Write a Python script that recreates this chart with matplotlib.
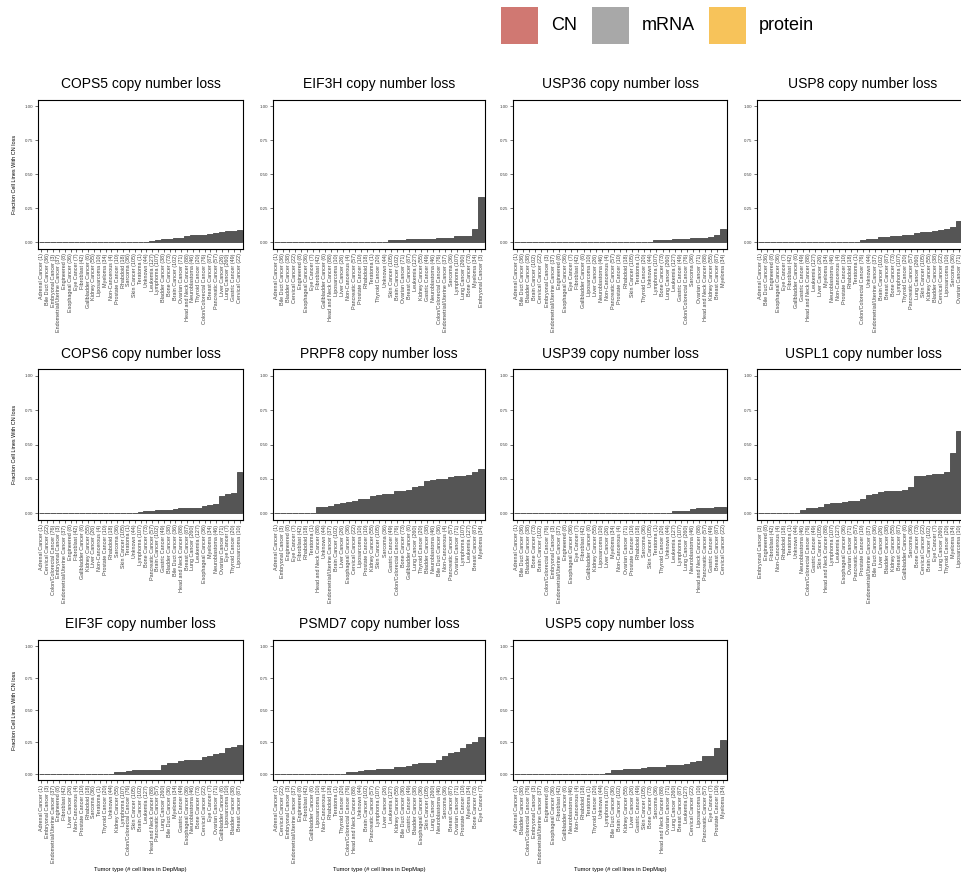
import numpy as np
import matplotlib.pyplot as plt
from matplotlib.patches import Rectangle

plt.rcParams['font.family'] = ['Liberation Sans', 'DejaVu Sans']

# number of cell lines per tumor type in DepMap
n_lines = {
    "Adrenal Cancer": 1, "Bile Duct Cancer": 36, "Bladder Cancer": 38, "Bone Cancer": 73,
    "Brain Cancer": 102, "Breast Cancer": 87, "Cervical Cancer": 22,
    "Colon/Colorectal Cancer": 76, "Embryonal Cancer": 3, "Endometrial/Uterine Cancer": 37,
    "Engineered": 8, "Esophageal Cancer": 36, "Eye Cancer": 7, "Fibroblast": 42,
    "Gallbladder Cancer": 6, "Gastric Cancer": 49, "Head and Neck Cancer": 88,
    "Kidney Cancer": 55, "Leukemia": 127, "Liposarcoma": 10, "Liver Cancer": 26,
    "Lung Cancer": 260, "Lymphoma": 107, "Myeloma": 34, "Neuroblastoma": 46,
    "Non-Cancerous": 4, "Ovarian Cancer": 71, "Pancreatic Cancer": 57, "Prostate Cancer": 10,
    "Rhabdoid": 18, "Sarcoma": 36, "Skin Cancer": 105, "Teratoma": 1, "Thyroid Cancer": 20,
    "Unknown": 44,
}

cops5_types = ["Adrenal Cancer", "Bile Duct Cancer", "Embryonal Cancer", "Endometrial/Uterine Cancer",
               "Engineered", "Esophageal Cancer", "Eye Cancer", "Fibroblast", "Gallbladder Cancer",
               "Kidney Cancer", "Liposarcoma", "Myeloma", "Non-Cancerous", "Prostate Cancer", "Rhabdoid",
               "Sarcoma", "Skin Cancer", "Teratoma", "Unknown", "Leukemia", "Lymphoma", "Bladder Cancer",
               "Bone Cancer", "Brain Cancer", "Ovarian Cancer", "Head and Neck Cancer", "Neuroblastoma",
               "Thyroid Cancer", "Colon/Colorectal Cancer", "Breast Cancer", "Pancreatic Cancer",
               "Liver Cancer", "Lung Cancer", "Gastric Cancer", "Cervical Cancer"]
cops5_frac = [0]*19 + [0.008, 0.019, 0.026, 0.027, 0.029, 0.034, 0.043, 0.05, 0.05, 0.053,
                       0.057, 0.07, 0.077, 0.081, 0.082, 0.091]

eif3h_types = ["Adrenal Cancer", "Bile Duct Cancer", "Bladder Cancer", "Cervical Cancer", "Engineered",
               "Esophageal Cancer", "Eye Cancer", "Fibroblast", "Gallbladder Cancer",
               "Head and Neck Cancer", "Liposarcoma", "Liver Cancer", "Non-Cancerous",
               "Pancreatic Cancer", "Prostate Cancer", "Rhabdoid", "Teratoma", "Thyroid Cancer",
               "Unknown", "Skin Cancer", "Brain Cancer", "Ovarian Cancer", "Breast Cancer", "Leukemia",
               "Kidney Cancer", "Gastric Cancer", "Neuroblastoma", "Colon/Colorectal Cancer",
               "Endometrial/Uterine Cancer", "Sarcoma", "Lymphoma", "Lung Cancer", "Bone Cancer",
               "Myeloma", "Embryonal Cancer"]
eif3h_frac = [0]*19 + [0.017, 0.017, 0.017, 0.026, 0.026, 0.024, 0.024, 0.024, 0.032, 0.032,
                       0.032, 0.047, 0.047, 0.047, 0.099, 0.333]

usp36_types = ["Adrenal Cancer", "Bile Duct Cancer", "Bladder Cancer", "Brain Cancer", "Cervical Cancer",
               "Embryonal Cancer", "Endometrial/Uterine Cancer", "Engineered", "Esophageal Cancer",
               "Eye Cancer", "Fibroblast", "Gallbladder Cancer", "Liposarcoma", "Liver Cancer",
               "Neuroblastoma", "Non-Cancerous", "Pancreatic Cancer", "Prostate Cancer", "Rhabdoid",
               "Skin Cancer", "Teratoma", "Thyroid Cancer", "Unknown", "Lymphoma", "Bone Cancer",
               "Lung Cancer", "Leukemia", "Gastric Cancer", "Colon/Colorectal Cancer", "Sarcoma",
               "Ovarian Cancer", "Head and Neck Cancer", "Kidney Cancer", "Breast Cancer", "Myeloma"]
usp36_frac = [0]*23 + [0.014, 0.017, 0.019, 0.02, 0.02, 0.026, 0.028, 0.028, 0.034, 0.04,
                       0.052, 0.096]

usp8_types = ["Adrenal Cancer", "Bile Duct Cancer", "Engineered", "Esophageal Cancer", "Eye Cancer",
              "Fibroblast", "Gallbladder Cancer", "Gastric Cancer", "Head and Neck Cancer", "Leukemia",
              "Liver Cancer", "Myeloma", "Neuroblastoma", "Non-Cancerous", "Prostate Cancer", "Rhabdoid",
              "Teratoma", "Colon/Colorectal Cancer", "Unknown", "Endometrial/Uterine Cancer",
              "Brain Cancer", "Breast Cancer", "Bone Cancer", "Lymphoma", "Thyroid Cancer",
              "Pancreatic Cancer", "Lung Cancer", "Skin Cancer", "Kidney Cancer", "Bladder Cancer",
              "Cervical Cancer", "Liposarcoma", "Sarcoma", "Ovarian Cancer", "Embryonal Cancer"]
usp8_frac = [0]*17 + [0.013, 0.027, 0.027, 0.037, 0.039, 0.044, 0.049, 0.05, 0.053, 0.066,
                      0.073, 0.073, 0.079, 0.091, 0.1, 0.111, 0.155, 0.333]

cops6_types = ["Adrenal Cancer", "Cervical Cancer", "Colon/Colorectal Cancer", "Embryonal Cancer",
               "Endometrial/Uterine Cancer", "Engineered", "Fibroblast", "Gallbladder Cancer",
               "Kidney Cancer", "Liver Cancer", "Non-Cancerous", "Prostate Cancer", "Rhabdoid", "Sarcoma",
               "Skin Cancer", "Teratoma", "Unknown", "Lymphoma", "Bone Cancer", "Pancreatic Cancer",
               "Brain Cancer", "Gastric Cancer", "Bladder Cancer", "Bile Duct Cancer",
               "Head and Neck Cancer", "Breast Cancer", "Lung Cancer", "Leukemia", "Esophageal Cancer",
               "Myeloma", "Neuroblastoma", "Ovarian Cancer", "Eye Cancer", "Thyroid Cancer", "Liposarcoma"]
cops6_frac = [0]*17 + [0.009, 0.014, 0.018, 0.02, 0.02, 0.026, 0.028, 0.034, 0.034, 0.035,
                       0.039, 0.053, 0.059, 0.065, 0.124, 0.138, 0.148, 0.3]

prpf8_types = ["Adrenal Cancer", "Embryonal Cancer", "Engineered", "Eye Cancer", "Fibroblast", "Rhabdoid",
               "Teratoma", "Head and Neck Cancer", "Unknown", "Endometrial/Uterine Cancer", "Brain Cancer",
               "Liver Cancer", "Esophageal Cancer", "Cervical Cancer", "Liposarcoma", "Prostate Cancer",
               "Kidney Cancer", "Skin Cancer", "Sarcoma", "Gastric Cancer", "Colon/Colorectal Cancer",
               "Bone Cancer", "Gallbladder Cancer", "Lung Cancer", "Thyroid Cancer", "Bladder Cancer",
               "Neuroblastoma", "Bile Duct Cancer", "Non-Cancerous", "Pancreatic Cancer",
               "Ovarian Cancer", "Lymphoma", "Leukemia", "Breast Cancer", "Myeloma"]
prpf8_frac = [0]*7 + [0.045, 0.045, 0.054, 0.069, 0.077, 0.083, 0.091, 0.1, 0.1, 0.127, 0.133,
                      0.139, 0.143, 0.158, 0.164, 0.167, 0.192, 0.2, 0.237, 0.239, 0.25, 0.25,
                      0.263, 0.268, 0.271, 0.276, 0.299, 0.324]

usp39_types = ["Adrenal Cancer", "Bile Duct Cancer", "Bladder Cancer", "Bone Cancer", "Brain Cancer",
               "Colon/Colorectal Cancer", "Embryonal Cancer", "Endometrial/Uterine Cancer", "Engineered",
               "Esophageal Cancer", "Eye Cancer", "Fibroblast", "Gallbladder Cancer", "Kidney Cancer",
               "Liposarcoma", "Liver Cancer", "Myeloma", "Non-Cancerous", "Ovarian Cancer",
               "Prostate Cancer", "Rhabdoid", "Sarcoma", "Skin Cancer", "Teratoma", "Thyroid Cancer",
               "Unknown", "Leukemia", "Lymphoma", "Lung Cancer", "Neuroblastoma", "Head and Neck Cancer",
               "Pancreatic Cancer", "Gastric Cancer", "Breast Cancer", "Cervical Cancer"]
usp39_frac = [0]*26 + [0.016, 0.019, 0.019, 0.03, 0.034, 0.035, 0.041, 0.046, 0.048]

uspl1_types = ["Embryonal Cancer", "Engineered", "Fibroblast", "Non-Cancerous", "Rhabdoid", "Teratoma",
               "Unknown", "Neuroblastoma", "Colon/Colorectal Cancer", "Gastric Cancer", "Skin Cancer",
               "Head and Neck Cancer", "Lymphoma", "Leukemia", "Esophageal Cancer", "Ovarian Cancer",
               "Pancreatic Cancer", "Prostate Cancer", "Endometrial/Uterine Cancer", "Bile Duct Cancer",
               "Liver Cancer", "Bladder Cancer", "Kidney Cancer", "Breast Cancer", "Gallbladder Cancer",
               "Sarcoma", "Bone Cancer", "Cervical Cancer", "Brain Cancer", "Eye Cancer", "Lung Cancer",
               "Thyroid Cancer", "Myeloma", "Liposarcoma", "Adrenal Cancer"]
uspl1_frac = [0]*7 + [0.022, 0.039, 0.041, 0.048, 0.068, 0.075, 0.075, 0.083, 0.085, 0.088,
                      0.1, 0.135, 0.139, 0.154, 0.158, 0.164, 0.164, 0.167, 0.194, 0.274,
                      0.273, 0.275, 0.286, 0.288, 0.3, 0.441, 0.6, 1.0]

eif3f_types = ["Adrenal Cancer", "Embryonal Cancer", "Endometrial/Uterine Cancer", "Engineered",
               "Fibroblast", "Liver Cancer", "Non-Cancerous", "Prostate Cancer", "Rhabdoid", "Sarcoma",
               "Teratoma", "Thyroid Cancer", "Unknown", "Kidney Cancer", "Lymphoma",
               "Colon/Colorectal Cancer", "Skin Cancer", "Brain Cancer", "Leukemia",
               "Head and Neck Cancer", "Pancreatic Cancer", "Lung Cancer", "Bile Duct Cancer", "Myeloma",
               "Gastric Cancer", "Esophageal Cancer", "Neuroblastoma", "Bone Cancer", "Cervical Cancer",
               "Eye Cancer", "Ovarian Cancer", "Gallbladder Cancer", "Liposarcoma", "Bladder Cancer",
               "Breast Cancer"]
eif3f_frac = [0]*13 + [0.018, 0.019, 0.026, 0.029, 0.029, 0.031, 0.034, 0.035, 0.073, 0.083,
                       0.088, 0.102, 0.108, 0.109, 0.11, 0.136, 0.143, 0.155, 0.167, 0.2, 0.21, 0.23]

psmd7_types = ["Adrenal Cancer", "Cervical Cancer", "Embryonal Cancer", "Endometrial/Uterine Cancer",
               "Engineered", "Fibroblast", "Gallbladder Cancer", "Liposarcoma", "Non-Cancerous", "Rhabdoid",
               "Teratoma", "Thyroid Cancer", "Colon/Colorectal Cancer", "Head and Neck Cancer", "Unknown",
               "Brain Cancer", "Pancreatic Cancer", "Lymphoma", "Liver Cancer", "Leukemia",
               "Kidney Cancer", "Bile Duct Cancer", "Gastric Cancer", "Bladder Cancer",
               "Esophageal Cancer", "Skin Cancer", "Lung Cancer", "Neuroblastoma", "Sarcoma",
               "Breast Cancer", "Ovarian Cancer", "Prostate Cancer", "Myeloma", "Bone Cancer", "Eye Cancer"]
psmd7_frac = [0]*12 + [0.013, 0.013, 0.023, 0.029, 0.035, 0.037, 0.038, 0.039, 0.055, 0.056,
                       0.061, 0.079, 0.083, 0.086, 0.088, 0.109, 0.139, 0.161, 0.169, 0.2,
                       0.235, 0.247, 0.286]

usp5_types = ["Adrenal Cancer", "Bladder Cancer", "Colon/Colorectal Cancer", "Embryonal Cancer",
              "Endometrial/Uterine Cancer", "Engineered", "Esophageal Cancer", "Fibroblast",
              "Gallbladder Cancer", "Neuroblastoma", "Non-Cancerous", "Rhabdoid", "Teratoma",
              "Thyroid Cancer", "Unknown", "Lymphoma", "Bile Duct Cancer", "Brain Cancer",
              "Kidney Cancer", "Liver Cancer", "Gastric Cancer", "Skin Cancer", "Bone Cancer", "Sarcoma",
              "Head and Neck Cancer", "Ovarian Cancer", "Lung Cancer", "Breast Cancer", "Leukemia",
              "Cervical Cancer", "Liposarcoma", "Pancreatic Cancer", "Eye Cancer", "Prostate Cancer",
              "Myeloma"]
usp5_frac = [0]*15 + [0.009, 0.028, 0.029, 0.036, 0.038, 0.041, 0.048, 0.055, 0.056, 0.057,
                      0.069, 0.069, 0.069, 0.079, 0.091, 0.1, 0.14, 0.143, 0.2, 0.265]

panels = [
    ("COPS5", cops5_types, cops5_frac), ("EIF3H", eif3h_types, eif3h_frac),
    ("USP36", usp36_types, usp36_frac), ("USP8", usp8_types, usp8_frac),
    ("COPS6", cops6_types, cops6_frac), ("PRPF8", prpf8_types, prpf8_frac),
    ("USP39", usp39_types, usp39_frac), ("USPL1", uspl1_types, uspl1_frac),
    ("EIF3F", eif3f_types, eif3f_frac), ("PSMD7", psmd7_types, psmd7_frac),
    ("USP5", usp5_types, usp5_frac),
]

legend_names = ["CN", "mRNA", "protein"]
legend_colors = ["#D07872", "#A8A8A8", "#F7C35A"]

W, H = 962, 881
fig = plt.figure(figsize=(W / 100, H / 100), dpi=100)

# panel boxes in pixels: left, right / top, bottom
cols = [(38, 243), (273, 485), (513, 727), (757, 969)]
rows = [(99.5, 249), (369, 520), (639.6, 780.4)]
bar_color = "#555555"

for k, (gene, types, frac) in enumerate(panels):
    r, c = divmod(k, 4)
    x0, x1 = cols[c]
    y0, y1 = rows[r]
    ax = fig.add_axes([x0 / W, 1 - y1 / H, (x1 - x0) / W, (y1 - y0) / H])
    xs = np.arange(len(types))
    ax.bar(xs, frac, width=1.0, color=bar_color, edgecolor=bar_color, linewidth=0.7)
    ax.set_xlim(-0.6, len(types) - 0.4)
    ax.set_ylim(-0.05, 1.05)
    ax.set_yticks([0, 0.25, 0.5, 0.75, 1.0])
    ax.set_yticklabels(["0.00", "0.25", "0.50", "0.75", "1.00"], fontsize=3.2, color="#444444")
    ax.set_xticks(xs)
    ax.set_xticklabels([f"{t} ({n_lines[t]})" for t in types], rotation=90, fontsize=3.9,
                       color="#444444", va="top", ha="center")
    ax.tick_params(length=2, width=0.5, pad=1.2, color="#333333")
    for s in ax.spines.values():
        s.set_linewidth(0.8)
    ax.set_title(f"{gene} copy number loss", fontsize=10, pad=8)
    if c == 0:
        ax.set_ylabel("Fraction Cell Lines With CN loss", fontsize=4, labelpad=6)
    if r == 2:
        ax.set_xlabel("Tumor type (# cell lines in DepMap)", fontsize=4.2, labelpad=3)

# legend at top
sq = 37
for name, col, lx in zip(legend_names, legend_colors, [501, 592, 709]):
    fig.patches.append(Rectangle((lx / W, 1 - 44 / H), sq / W, sq / H, transform=fig.transFigure,
                                 facecolor=col, edgecolor="none"))
    fig.text((lx + sq + 13) / W, 1 - 26 / H, name, fontsize=13, va="center", ha="left")

fig.savefig("out.png", dpi=100)
